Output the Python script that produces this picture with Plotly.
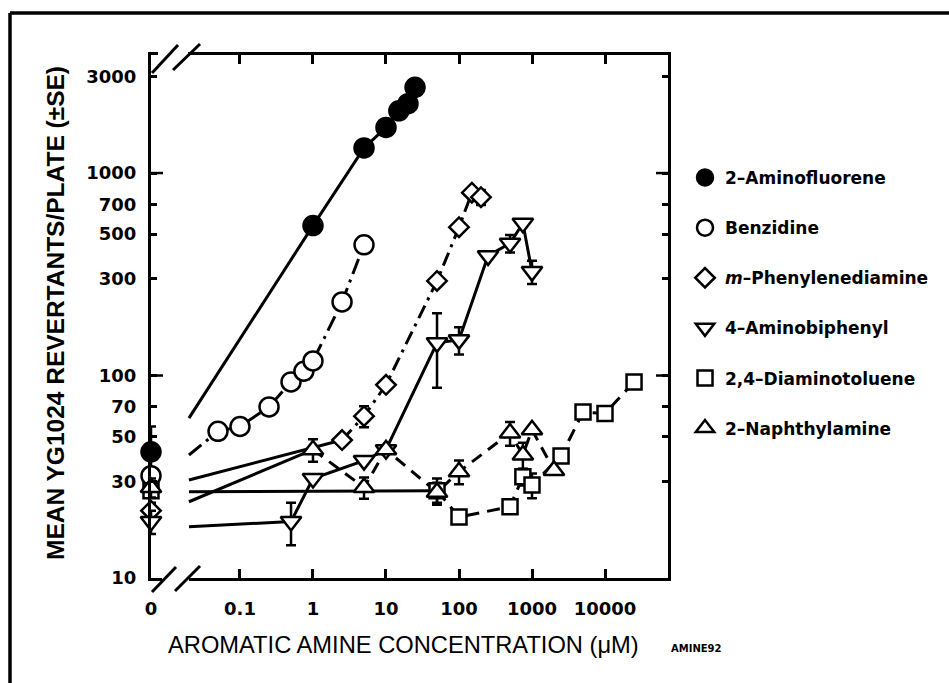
import math
import plotly.graph_objects as go

# ---------------- data ----------------
NAMES = ["2–Aminofluorene", "Benzidine", "<i>m</i>–Phenylenediamine",
         "4–Aminobiphenyl", "2,4–Diaminotoluene", "2–Naphthylamine"]

AF_X = [0, 1, 5, 10, 15, 20, 25]
AF_Y = [42, 550, 1330, 1680, 2030, 2200, 2650]
AF_E = [14, 0, 0, 0, 0, 0, 0]

BZ_X = [0, 0.05, 0.1, 0.25, 0.5, 0.75, 1, 2.5, 5]
BZ_Y = [32, 53, 56, 70, 93, 105, 118, 231, 442]
BZ_E = [0, 0, 0, 0, 0, 0, 0, 0, 0]

MPD_X = [0, 2.5, 5, 10, 50, 100, 150, 200]
MPD_Y = [21.5, 48, 63, 90, 293, 540, 800, 760]
MPD_E = [2, 0, 7.5, 0, 0, 0, 0, 65]

AB_X = [0, 0.5, 1, 5, 10, 50, 100, 250, 500, 750, 1000]
AB_Y = [19, 19, 31, 38, 43, 145, 150, 390, 450, 565, 326]
AB_E = [2.5, 4.5, 0, 0, 0, 58, 23, 0, 45, 0, 43]

DAT_X = [0, 50, 100, 500, 750, 1000, 2500, 5000, 10000, 25000]
DAT_Y = [27, 27, 20, 22.5, 31.6, 28.8, 40, 66, 65, 93]
DAT_E = [0, 4, 0, 0, 3, 4, 0, 0, 0, 0]

NA_X = [0, 1, 5, 10, 50, 100, 500, 750, 1000, 2000]
NA_Y = [28, 43, 28, 43, 26.5, 33.5, 52, 40.5, 54, 34]
NA_E = [3, 5.5, 3.4, 0, 3, 4.5, 7, 6, 0, 0]

# lead-in lines from the axis break to the first dose
LEAD_X = 0.02
LEAD_Y = [61.6, 40.5, 30.5, 17.9, 26.7, 23.8]

X_TICKS = [0.1, 1, 10, 100, 1000, 10000]
X_TICKTEXT = ["0.1", "1", "10", "100", "1000", "10000"]
Y_TICKS = [10, 30, 50, 70, 100, 300, 500, 700, 1000, 3000]
Y_TICKTEXT = ["10", "30", "50", "70", "100", "300", "500", "700", "1000", "3000"]

# ---------------- layout geometry ----------------
W, H = 949, 683
PL, PR, PT, PB = 151, 668, 55, 578
XMIN, XMAX = -2.219, 4.863
YMIN, YMAX = 1.0, 3.583
ZERO_X = 10 ** XMIN


def px(x):
    return (x - PL) / (PR - PL)


def py(y):
    return (PB - y) / (PB - PT)


series = [
    (AF_X, AF_Y, AF_E, "circle", "black", 19, "solid"),
    (BZ_X, BZ_Y, BZ_E, "circle", "white", 19, "16px,6px,3px,6px"),
    (MPD_X, MPD_Y, MPD_E, "diamond", "white", 15, "14px,6px,3px,6px"),
    (AB_X, AB_Y, AB_E, "triangle-down", "white", 18, "solid"),
    (DAT_X, DAT_Y, DAT_E, "square", "white", 15, "13px,8px"),
    (NA_X, NA_Y, NA_E, "triangle-up", "white", 18, "12px,8px"),
]

fig = go.Figure()

# lines
for i, (xs, ys, es, sym, col, sz, dash) in enumerate(series):
    lead_dash = dash if i == 1 else "solid"
    fig.add_trace(go.Scatter(x=[LEAD_X, xs[1]], y=[LEAD_Y[i], ys[1]], mode="lines",
                             line=dict(color="black", width=3, dash=lead_dash),
                             showlegend=False, hoverinfo="skip"))
    fig.add_trace(go.Scatter(x=xs[1:], y=ys[1:], mode="lines",
                             line=dict(color="black", width=3, dash=dash),
                             showlegend=False, hoverinfo="skip"))

# markers with error bars
for i, (xs, ys, es, sym, col, sz, dash) in enumerate(series):
    xx = [ZERO_X if v == 0 else v for v in xs]
    fig.add_trace(go.Scatter(
        x=xx, y=ys, mode="markers", name=NAMES[i],
        legendgroup="g%d" % i,
        marker=dict(symbol=sym, size=sz, color=col,
                    line=dict(color="black", width=2.5)),
        error_y=dict(type="data", array=es, color="black", thickness=2.5, width=5),
        cliponaxis=False,
    ))

shapes = []
# axis breaks: white covers then slashes
shapes.append(dict(type="rect", xref="paper", yref="paper",
                   x0=px(162), x1=px(189), y0=py(584), y1=py(572),
                   fillcolor="white", line=dict(width=0), layer="above"))
shapes.append(dict(type="rect", xref="paper", yref="paper",
                   x0=px(158), x1=px(188), y0=py(61), y1=py(49),
                   fillcolor="white", line=dict(width=0), layer="above"))
for (x0, y0, x1, y1) in [(152, 592, 176, 567), (175, 591, 200, 566),
                         (152, 73, 178, 45), (173, 70, 200, 44)]:
    shapes.append(dict(type="line", xref="paper", yref="paper",
                       x0=px(x0), y0=py(y0), x1=px(x1), y1=py(y1),
                       line=dict(color="black", width=3), layer="above"))
# longer decade ticks on y axis (both sides)
for v in [100, 1000]:
    yp = (math.log10(v) - YMIN) / (YMAX - YMIN)
    shapes.append(dict(type="line", xref="paper", yref="paper",
                       x0=0, x1=px(PL + 12), y0=yp, y1=yp,
                       line=dict(color="black", width=2.5)))
    shapes.append(dict(type="line", xref="paper", yref="paper",
                       x0=px(PR - 12), x1=1, y0=yp, y1=yp,
                       line=dict(color="black", width=2.5)))
# outer border of the figure
shapes.append(dict(type="line", xref="paper", yref="paper",
                   x0=px(10), x1=px(W + 5), y0=py(13), y1=py(13),
                   line=dict(color="black", width=3.5)))
shapes.append(dict(type="line", xref="paper", yref="paper",
                   x0=px(10), x1=px(10), y0=py(13), y1=py(H + 5),
                   line=dict(color="black", width=3.5)))

annotations = [
    dict(text="AROMATIC AMINE CONCENTRATION (μM)", xref="paper", yref="paper",
         x=px(403), y=py(645), showarrow=False, xanchor="center", yanchor="middle",
         font=dict(family="Liberation Sans", size=23.7, color="black")),
    dict(text="<b>MEAN YG1024 REVERTANTS/PLATE (±SE)</b>", xref="paper", yref="paper",
         x=px(55), y=py(313), showarrow=False, textangle=-90,
         xanchor="center", yanchor="middle",
         font=dict(family="Liberation Sans", size=24.5, color="black")),
    dict(text="<b>AMINE92</b>", xref="paper", yref="paper",
         x=px(696), y=py(648), showarrow=False, xanchor="center", yanchor="middle",
         font=dict(family="DejaVu Sans", size=10, color="black")),
]

fig.update_layout(
    width=W, height=H,
    margin=dict(l=PL, r=W - PR, t=PT, b=H - PB, pad=0),
    paper_bgcolor="white", plot_bgcolor="white",
    shapes=shapes, annotations=annotations,
    legend=dict(x=px(685), y=py(160), xanchor="left", yanchor="top",
                font=dict(family="DejaVu Sans", size=17, color="black", weight="bold"),
                tracegroupgap=25, bgcolor="rgba(0,0,0,0)", borderwidth=0),
    xaxis=dict(type="log", range=[XMIN, XMAX],
               tickmode="array", tickvals=[ZERO_X] + X_TICKS, ticktext=["0"] + X_TICKTEXT,
               ticks="inside", ticklen=9, tickwidth=2.5, tickcolor="black",
               showline=True, linewidth=3, linecolor="black", mirror="ticks",
               showgrid=False, zeroline=False, ticklabelstandoff=12,
               tickfont=dict(family="DejaVu Sans", size=18, color="black", weight="bold")),
    yaxis=dict(type="log", range=[YMIN, YMAX],
               tickmode="array", tickvals=Y_TICKS, ticktext=Y_TICKTEXT,
               ticks="inside", ticklen=6, tickwidth=2.5, tickcolor="black",
               showline=True, linewidth=3, linecolor="black", mirror="ticks",
               showgrid=False, zeroline=False, ticklabelstandoff=8,
               tickfont=dict(family="DejaVu Sans", size=18, color="black", weight="bold")),
)

fig.write_html("out.html")
